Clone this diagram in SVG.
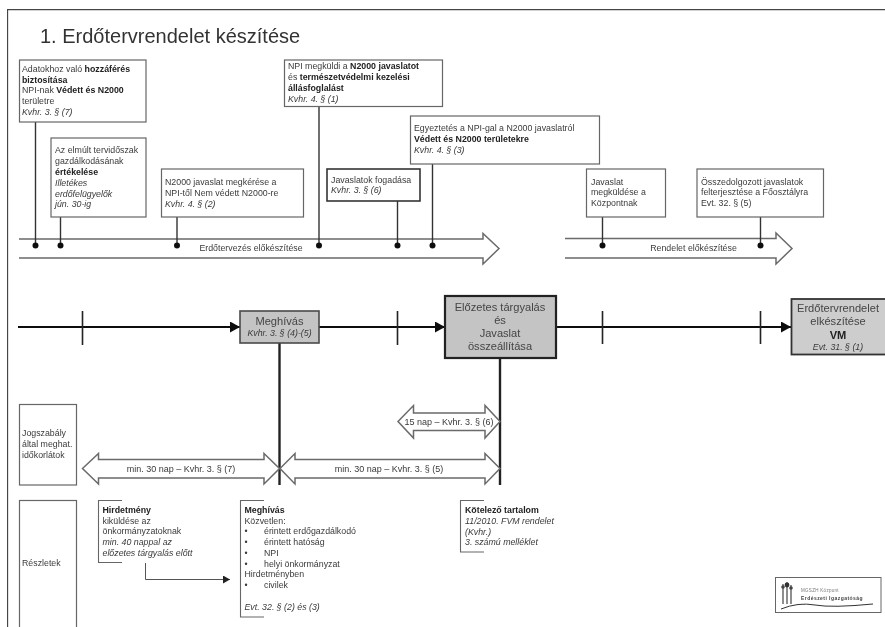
<svg xmlns="http://www.w3.org/2000/svg" width="885" height="627" viewBox="0 0 885 627">
<style>
text{font-family:"Liberation Sans",Arial,sans-serif;font-size:8.8px;fill:#3a3a3a}
.b{font-weight:bold;fill:#222}
.i{font-style:italic}
.c{text-anchor:middle}
.box{fill:#fff;stroke:#666;stroke-width:1.2}
.gray{fill:#c4c4c4;stroke:#4a4a4a;stroke-width:1.6}
.big{font-size:11.1px;fill:#444}
.arrow{fill:#fff;stroke:#6a6a6a;stroke-width:1.5}
.stem{stroke:#333;stroke-width:1.4;fill:none}
.tl{stroke:#111;stroke-width:2.2;fill:none}
.tick{stroke:#222;stroke-width:1.6;fill:none}
.v{stroke:#222;stroke-width:2.4;fill:none}
.br{stroke:#666;stroke-width:1.1;fill:none}
.lbl{font-size:9px}
</style>
<defs>
<filter id="soft" x="0" y="0" width="100%" height="100%"><feGaussianBlur stdDeviation="0.42"/></filter>
<marker id="ah" markerUnits="userSpaceOnUse" markerWidth="11" markerHeight="12" refX="10" refY="5.500" orient="auto"><path d="M0 0L10 5.500L0 11Z" fill="#111"/></marker>
<marker id="ah2" markerUnits="userSpaceOnUse" markerWidth="8" markerHeight="10" refX="7" refY="4" orient="auto"><path d="M0 0L7 4L0 8Z" fill="#222"/></marker>
</defs>
<g filter="url(#soft)">
<path id="frame" d="M885 9.500H7.500V627" fill="none" stroke="#444" stroke-width="1.3"/>
<text id="title" x="40" y="43" style="font-size:20px;fill:#333">1. Erdőtervrendelet készítése</text>

<g id="arrow-erdotervezes"><path class="arrow" d="M19 239H483V233.500L499 248.500L483 264V258H19"/><text class="c" x="251" y="251">Erdőtervezés előkészítése</text></g>
<g id="arrow-rendelet"><path class="arrow" d="M565 238.500H776V233L792 248.500L776 264V258H565"/><text class="c" x="693.500" y="251">Rendelet előkészítése</text></g>

<g id="connectors">
<path class="stem" d="M35.500 122V245M60.500 217V245M177 217V245M319 106V245M397.500 201V245M432.500 164V245M602.500 217V245M760.500 217V245"/>
<g fill="#111"><circle cx="35.500" cy="245.500" r="3"/><circle cx="60.500" cy="245.500" r="3"/><circle cx="177" cy="245.500" r="3"/><circle cx="319" cy="245.500" r="3"/><circle cx="397.500" cy="245.500" r="3"/><circle cx="432.500" cy="245.500" r="3"/><circle cx="602.500" cy="245.500" r="3"/><circle cx="760.500" cy="245.500" r="3"/></g>
<path class="tl" marker-end="url(#ah)" d="M18 327H240"/>
<path class="tl" marker-end="url(#ah)" d="M319 327H445"/>
<path class="tl" marker-end="url(#ah)" d="M556 327H791"/>
<path class="tick" d="M82.500 311V345M397.500 311V345M602.500 311V344M760.500 311V344"/>
<path class="v" d="M279.500 343V485M500 358V485"/>
<path class="stem" style="stroke:#555;stroke-width:1" marker-end="url(#ah2)" d="M145.500 563V579.500H230"/>
</g>

<g id="n-hozzaferes"><rect class="box" x="19.500" y="60" width="126.500" height="62"/>
<text x="22" y="72">Adatokhoz való <tspan class="b">hozzáférés</tspan></text><text class="b" x="22" y="83">biztosítása</text><text x="22" y="93">NPI-nak <tspan class="b">Védett és N2000</tspan></text><text x="22" y="104">területre</text><text class="i" x="22" y="115">Kvhr. 3. § (7)</text></g>
<g id="n-ertekeles"><rect class="box" x="51" y="138" width="95" height="79"/>
<text x="55" y="153">Az elmúlt tervidőszak</text><text x="55" y="164">gazdálkodásának</text><text class="b" x="55" y="175">értékelése</text><text class="i" x="55" y="186">Illetékes</text><text class="i" x="55" y="197">erdőfelügyelők</text><text class="i" x="55" y="207">jún. 30-ig</text></g>
<g id="n-megkeres"><rect class="box" x="161.500" y="169" width="142" height="48"/>
<text x="165" y="185">N2000 javaslat megkérése a</text><text x="165" y="196">NPI-től Nem védett N2000-re</text><text class="i" x="165" y="207">Kvhr. 4. § (2)</text></g>
<g id="n-fogadas"><rect x="327" y="169" width="93" height="32" fill="#fff" stroke="#333" stroke-width="1.6"/>
<text x="331" y="183">Javaslatok fogadása</text><text class="i" x="331" y="193">Kvhr. 3. § (6)</text></g>
<g id="n-megkuldi"><rect class="box" x="284.500" y="60" width="158" height="46.500"/>
<text x="288" y="69">NPI megküldi a <tspan class="b">N2000 javaslatot</tspan></text><text x="288" y="80">és <tspan class="b">természetvédelmi kezelési</tspan></text><text class="b" x="288" y="91">állásfoglalást</text><text class="i" x="288" y="102">Kvhr. 4. § (1)</text></g>
<g id="n-egyeztetes"><rect class="box" x="410.500" y="116" width="189" height="48"/>
<text x="414" y="131">Egyeztetés a NPI-gal a N2000 javaslatról</text><text class="b" x="414" y="142">Védett és N2000 területekre</text><text class="i" x="414" y="153">Kvhr. 4. § (3)</text></g>
<g id="n-kozpont"><rect class="box" x="586.500" y="169" width="79" height="48"/>
<text x="591" y="185">Javaslat</text><text x="591" y="195">megküldése a</text><text x="591" y="206">Központnak</text></g>
<g id="n-felterjesztes"><rect class="box" x="697" y="169" width="126.500" height="48"/>
<text x="701" y="185">Összedolgozott javaslatok</text><text x="701" y="195">felterjesztése a Főosztályra</text><text x="701" y="206">Evt. 32. § (5)</text></g>

<g id="n-meghivas"><rect class="gray" x="240" y="311" width="79" height="32"/>
<text class="c big" x="279.500" y="325">Meghívás</text><text class="c i" x="279.500" y="336">Kvhr. 3. § (4)-(5)</text></g>
<g id="n-targyalas"><rect x="445" y="296" width="111" height="62" fill="#c4c4c4" stroke="#222" stroke-width="2.200"/>
<text class="c big" x="500" y="310.500">Előzetes tárgyalás</text><text class="c big" x="500" y="323.500">és</text><text class="c big" x="500" y="337">Javaslat</text><text class="c big" x="500" y="350">összeállítása</text></g>
<g id="n-vm"><rect x="791.500" y="299" width="96" height="55.500" fill="#cdcdcd" stroke="#333" stroke-width="1.800"/>
<text class="c big" x="838" y="311.500">Erdőtervrendelet</text><text class="c big" x="838" y="325">elkészítése</text><text class="c big" x="838" y="338.500" style="font-weight:bold;fill:#222">VM</text><text class="c i" x="838" y="350">Evt. 31. § (1)</text></g>

<g id="n-jogszabaly"><rect class="box" x="19.500" y="404.500" width="57" height="80.500"/>
<text x="22" y="436">Jogszabály</text><text x="22" y="447">által meghat.</text><text x="22" y="458">időkorlátok</text></g>
<g id="n-reszletek"><rect class="box" x="19.500" y="500.500" width="57" height="130"/><text x="22" y="566">Részletek</text></g>

<g id="span-7"><path class="arrow" d="M82.500 468.500L98.500 453.500V459.500H264V453.500L279.500 468.500L264 484V478H98.500V484Z"/><text class="c lbl" x="181" y="472">min. 30 nap – Kvhr. 3. § (7)</text></g>
<g id="span-5"><path class="arrow" d="M280 468.500L295 453.500V459.500H485V453.500L500 468.500L485 484V478H295V484Z"/><text class="c lbl" x="389" y="472">min. 30 nap – Kvhr. 3. § (5)</text></g>
<g id="span-6"><path class="arrow" d="M398 421.500L413.500 405.500V413H485V405.500L500 421.500L485 438V430.500H413.500V438Z"/><text class="c lbl" x="449" y="425">15 nap – Kvhr. 3. § (6)</text></g>

<g id="n-hirdetmeny"><path class="br" d="M122 500.500H98.500V562.500H122"/>
<text class="b" x="102.500" y="513">Hirdetmény</text><text x="102.500" y="523.500">kiküldése az</text><text x="102.500" y="534">önkormányzatoknak</text><text class="i" x="102.500" y="545">min. 40 nappal az</text><text class="i" x="102.500" y="555.500">előzetes tárgyalás előtt</text></g>
<g id="n-meghivas-reszlet"><path class="br" d="M264 500.500H240.500V617H264"/>
<text class="b" x="244.500" y="513">Meghívás</text><text x="244.500" y="523.500">Közvetlen:</text>
<text x="244.500" y="534">•</text><text x="264" y="534">érintett erdőgazdálkodó</text>
<text x="244.500" y="545">•</text><text x="264" y="545">érintett hatóság</text>
<text x="244.500" y="555.500">•</text><text x="264" y="555.500">NPI</text>
<text x="244.500" y="566.500">•</text><text x="264" y="566.500">helyi önkormányzat</text>
<text x="244.500" y="577">Hirdetményben</text>
<text x="244.500" y="588">•</text><text x="264" y="588">civilek</text>
<text class="i" x="244.500" y="609.500">Evt. 32. § (2) és (3)</text></g>
<g id="n-kotelezo"><path class="br" d="M484 500.500H460.500V552H484"/>
<text class="b" x="465" y="513">Kötelező tartalom</text><text class="i" x="465" y="524">11/2010. FVM rendelet</text><text class="i" x="465" y="534.500">(Kvhr.)</text><text class="i" x="465" y="545">3. számú melléklet</text></g>

<g id="logo"><rect x="775.500" y="577.500" width="105.500" height="35" fill="#fff" stroke="#666" stroke-width="1"/>
<path d="M783 584V604M787 582V604M791 585V604" stroke="#333" stroke-width="1.100" fill="none"/>
<circle cx="783" cy="587" r="1.800" fill="#444"/><circle cx="787" cy="585" r="2.400" fill="#333"/><circle cx="791" cy="588" r="1.800" fill="#444"/>
<text x="801" y="592" style="font-size:4.500px;fill:#777;letter-spacing:.3px">MGSZH Központ</text>
<text x="801" y="600" style="font-size:5px;font-weight:bold;fill:#444;letter-spacing:.45px">Erdészeti Igazgatóság</text>
<path d="M781 609Q798 602 815 605T873 604" fill="none" stroke="#333" stroke-width="1"/></g>
</g>
</svg>
